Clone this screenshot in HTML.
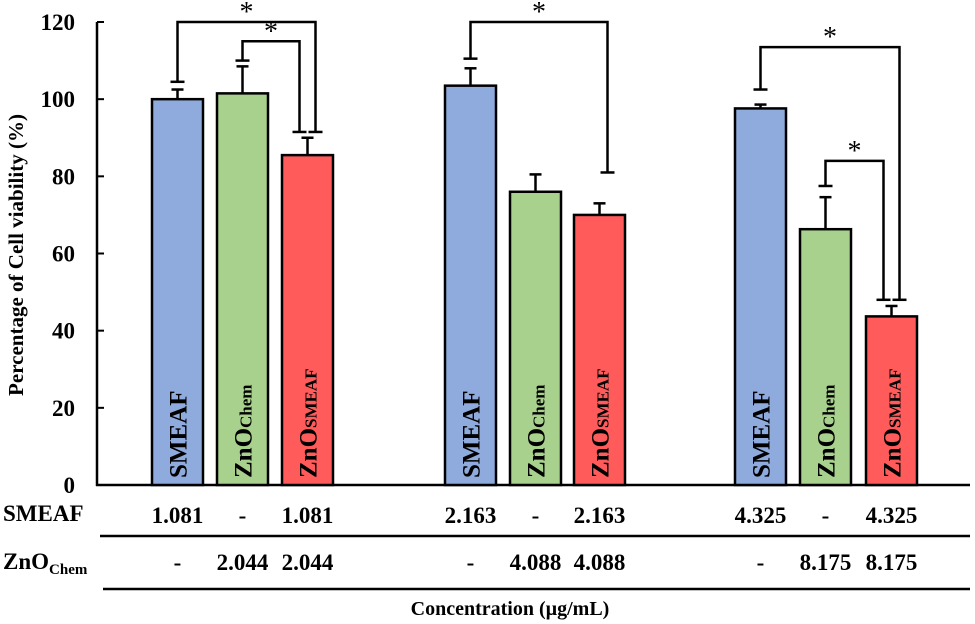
<!DOCTYPE html>
<html><head><meta charset="utf-8"><style>
body{margin:0;background:#fff}
svg{display:block;font-family:"Liberation Serif",serif;font-weight:bold}
</style></head><body>
<svg id="chart" width="975" height="624" viewBox="0 0 975 624" xmlns="http://www.w3.org/2000/svg">
<g id="axes"></g>
<g id="bars"></g>
<g id="sig"></g>
<g id="table">
<line x1="100" y1="536" x2="970" y2="536" stroke="#000" stroke-width="2.5"/>
<line x1="103" y1="589" x2="970" y2="589" stroke="#000" stroke-width="2.5"/>
<text x="3" y="521" font-size="23">SMEAF</text>
<text x="3" y="569" font-size="23">ZnO<tspan font-size="15" dy="5">Chem</tspan></text>
<text x="510" y="615" font-size="20" text-anchor="middle">Concentration (µg/mL)</text>
</g>
<text transform="translate(23,255) rotate(-90)" font-size="21" text-anchor="middle">Percentage of Cell viability (%)</text>
</svg>
<script>
const values=[100,101.5,85.5,103.5,76,70,97.6,66.3,43.7];
const errors=[2.5,7,4.5,4.5,4.5,3,1,8.3,2.7];
const labels=["SMEAF","ZnO|Chem","ZnO|SMEAF","SMEAF","ZnO|Chem","ZnO|SMEAF","SMEAF","ZnO|Chem","ZnO|SMEAF"];
const smeafRow=["1.081","-","1.081","2.163","-","2.163","4.325","-","4.325"];
const znoRow=["-","2.044","2.044","-","4.088","4.088","-","8.175","8.175"];
const yTicks=[0,20,40,60,80,100,120];
const brackets=[[0,2,120,104.5,91.5],[1,2,115,110,91.5],[3,5,120,110.5,81],[6,8,113.5,102.5,48],[7,8,84,77.5,48]];
const NS="http://www.w3.org/2000/svg";
const colors=["#8faadc","#a9d18e","#ff5b5b"];
const y=v=>485-v*(463/120);
const xL=[152,217,282,445,510,574,735,800,866];
const bw=51;
const cx=i=>xL[i%9]+bw/2;
function el(t,a,p){const e=document.createElementNS(NS,t);for(const k in a)e.setAttribute(k,a[k]);p.appendChild(e);return e;}
const ax=document.getElementById('axes'),bg=document.getElementById('bars'),sg=document.getElementById('sig'),tb=document.getElementById('table');
let a=el('line',{x1:97,y1:y(120),x2:97,y2:486,stroke:'#000','stroke-width':2.5},ax);

a=el('line',{x1:96,y1:485,x2:970,y2:485,stroke:'#000','stroke-width':2.5},ax);

yTicks.forEach(t=>{
 const l=el('line',{x1:97,y1:y(t),x2:104,y2:y(t),stroke:'#000','stroke-width':2},ax);
 
 const tx=el('text',{x:75,y:y(t)+8,'font-size':23,'text-anchor':'end'},ax);tx.textContent=t;
 
});
values.forEach((v,i)=>{
 const x=xL[i],c=cx(i),top=y(v),et=y(v+errors[i]);
 const e=el('line',{x1:c,y1:top,x2:c,y2:et,stroke:'#000','stroke-width':2.5},bg);
 
 const ec=el('line',{x1:c-6,y1:et,x2:c+6,y2:et,stroke:'#000','stroke-width':2.5},bg);
 
 const r=el('rect',{x:x,y:top,width:bw,height:485-top,fill:colors[i%3],stroke:'#000','stroke-width':2.5},bg);
 
 const [m,s]=labels[i].split('|');
 const t=el('text',{transform:`translate(${c+9},478) rotate(-90)`,'font-size':25},bg);
 
 t.textContent=m;
 if(s){const ts=el('tspan',{'font-size':17},t);ts.textContent=s;}
 const s1=el('text',{x:c,y:523,'font-size':23,'text-anchor':'middle'},tb);s1.textContent=smeafRow[i];
 
 const s2=el('text',{x:c,y:570,'font-size':23,'text-anchor':'middle'},tb);s2.textContent=znoRow[i];
 
});
brackets.forEach(b=>{
 const [i,j,top,l,r]=b;
 const xa=cx(i),xb=(i%9==1||i%9==7)?cx(j)-8:cx(j)+8;
 const p=el('path',{d:`M${xa} ${y(l)} V${y(top)} H${xb} V${y(r)}`,fill:'none',stroke:'#000','stroke-width':2.5},sg);
 
 [[xa,y(l)],[xb,y(r)]].forEach(q=>{const c=el('line',{x1:q[0]-7,y1:q[1],x2:q[0]+7,y2:q[1],stroke:'#000','stroke-width':2.5},sg);
  });
 const s=el('text',{x:(xa+xb)/2,y:y(top)-1,'font-size':28,'font-weight':'normal','text-anchor':'middle'},sg);s.textContent='*';
 
});
</script>
</body></html>
